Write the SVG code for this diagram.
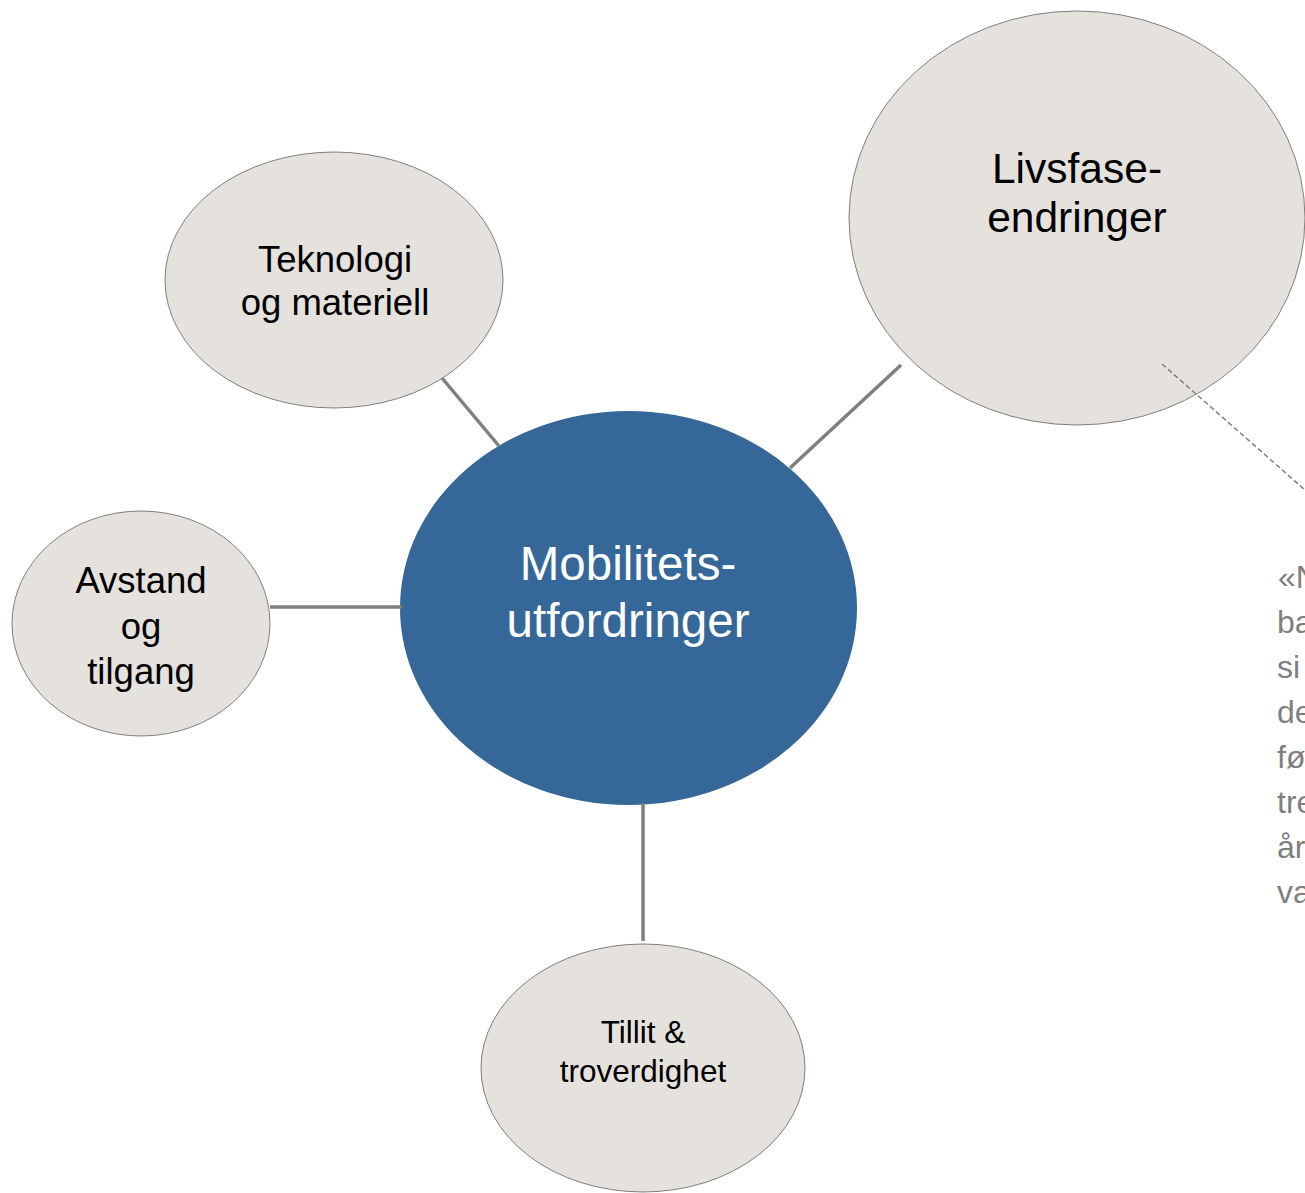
<svg xmlns="http://www.w3.org/2000/svg" width="1305" height="1193" viewBox="0 0 1305 1193">
<style>
.node{fill:#e5e2dd;stroke:#7f7f7f;stroke-width:1}
.lbl{font-family:"Liberation Sans",Arial,sans-serif;fill:#000;text-anchor:middle}
.conn{stroke:#7f7f7f;stroke-width:3.5;fill:none}
.dash{stroke:#7f7f7f;stroke-width:1.5;stroke-dasharray:5,3;fill:none}
.side{font-family:"Liberation Sans",Arial,sans-serif;fill:#7f7f7f;font-size:32px}
</style>
<rect width="1305" height="1193" fill="#ffffff"/>
<g id="teknologi">
<ellipse class="node" cx="334" cy="280" rx="169" ry="128"/>
<text class="lbl" font-size="36.5" x="335" y="272">Teknologi</text>
<text class="lbl" font-size="36.5" x="335" y="315">og materiell</text>
</g>
<g id="livsfase">
<ellipse class="node" cx="1077" cy="218" rx="228" ry="207"/>
<text class="lbl" font-size="42.5" x="1077" y="183">Livsfase-</text>
<text class="lbl" font-size="42.5" x="1077" y="232">endringer</text>
</g>
<g id="avstand">
<ellipse class="node" cx="141" cy="623.5" rx="129" ry="112.5"/>
<text class="lbl" font-size="36.5" x="141" y="593">Avstand</text>
<text class="lbl" font-size="36.5" x="141" y="639">og</text>
<text class="lbl" font-size="36.5" x="141" y="684">tilgang</text>
</g>
<g id="tillit">
<ellipse class="node" cx="643" cy="1068" rx="162" ry="124"/>
<text class="lbl" font-size="31.5" x="643" y="1043">Tillit &amp;</text>
<text class="lbl" font-size="31.5" x="643" y="1082">troverdighet</text>
</g>
<g id="mobilitet">
<ellipse cx="628.5" cy="608" rx="228.5" ry="197" fill="#356899"/>
<text class="lbl" font-size="47.5" x="628" y="580" style="fill:#ffffff">Mobilitets-</text>
<text class="lbl" font-size="47.5" x="628" y="637" style="fill:#ffffff">utfordringer</text>
</g>
<g id="sidetext">
<text class="side" x="1278" y="588">«N</text>
<text class="side" x="1277" y="633">ba</text>
<text class="side" x="1277" y="678">si</text>
<text class="side" x="1277" y="723">de</text>
<text class="side" x="1277" y="768">fø</text>
<text class="side" x="1277" y="813">tre</text>
<text class="side" x="1277" y="858">år</text>
<text class="side" x="1277" y="903">va</text>
</g>
<g id="connectors">
<line class="conn" x1="442" y1="378" x2="499" y2="446"/>
<line class="conn" x1="901" y1="365" x2="790" y2="468"/>
<line class="conn" x1="270" y1="607" x2="402" y2="607"/>
<line class="conn" x1="643" y1="803" x2="643" y2="941"/>
<line class="dash" x1="1162" y1="364" x2="1305" y2="490"/>
</g>
</svg>
